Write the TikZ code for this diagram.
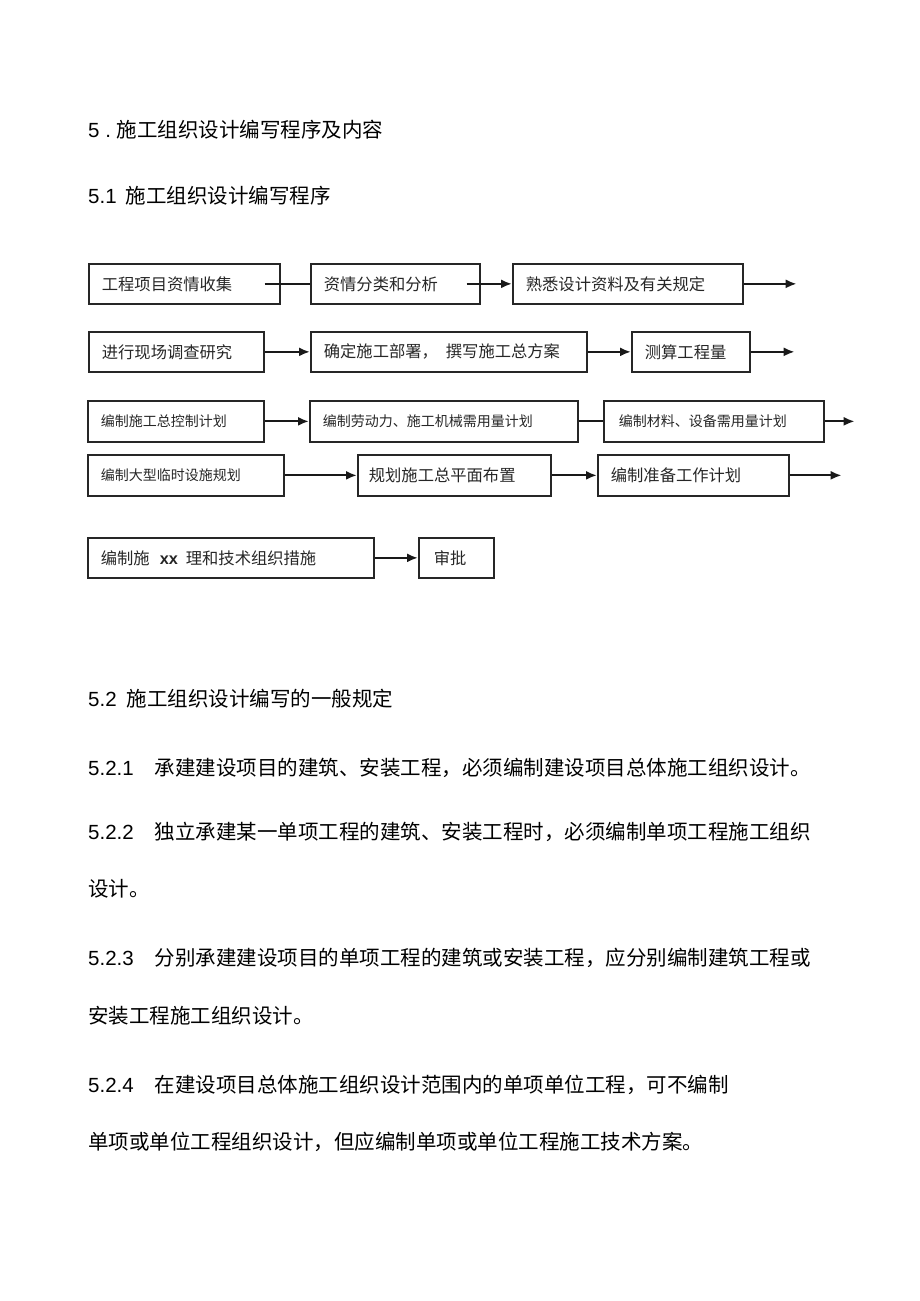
\documentclass[tikz,border=0pt]{standalone}
\usepackage{fontspec}
\setmainfont{Liberation Sans}
\newfontfamily\cjk{Noto Sans CJK SC}
\usetikzlibrary{arrows.meta}

\tikzset{
  stepbox/.style={draw=black!85, line width=1.7pt, inner xsep=13pt, inner ysep=0pt,
    minimum height=40pt, align=left, anchor=north west, text=black!85,
    font=\cjk\fontsize{16.3}{18}\selectfont},
  smallbox/.style={stepbox, minimum height=41pt, font=\cjk\fontsize{14}{16}\selectfont},
  link/.style={line width=2.2pt, draw=black!90, -{Latex[length=11pt,width=9pt]}},
  plainlink/.style={line width=2.2pt, draw=black!90},
  bodytext/.style={anchor=west, inner sep=0pt, font=\fontsize{20.5}{24}\selectfont}
}

\begin{document}
\begin{tikzpicture}[x=1pt,y=-1pt]
\useasboundingbox (0,0) rectangle (920,1301);

% headings
\node[bodytext] (title) at (88,130) {5 .\hspace{6pt}{\cjk 施工组织设计编写程序及内容}};
\node[bodytext] (sub1)  at (88,196) {5.1\hspace{9pt}{\cjk 施工组织设计编写程序}};

% flow of the steps
\node[stepbox, text width=165pt] (collect)  at (88,263)  {工程项目资情收集};
\node[stepbox, text width=143pt] (classify) at (310,263) {资情分类和分析};
\node[stepbox, text width=204pt] (study)    at (512,263) {熟悉设计资料及有关规定};
\coordinate (study-out) at ([xshift=53pt]study.east);

\node[stepbox, text width=149pt] (survey)   at (88,331)  {进行现场调查研究};
\node[stepbox, text width=250pt] (deploy)   at (310,331) {确定施工部署，\hspace{8pt}撰写施工总方案};
\node[stepbox, text width=92pt]  (quantity) at (631,331) {测算工程量};
\coordinate (quantity-out) at ([xshift=44pt]quantity.east);

\node[smallbox, text width=150pt] (master)   at (87,400)  {编制施工总控制计划};
\node[smallbox, text width=242pt] (labour)   at (309,400) {编制劳动力、施工机械需用量计划};
\node[smallbox, inner xsep=15pt, text width=190pt] (material) at (603,400) {编制材料、设备需用量计划};
\coordinate (material-out) at ([xshift=30pt]material.east);

\node[smallbox, text width=170pt] (temp)    at (87,454)  {编制大型临时设施规划};
\node[stepbox, minimum height=41pt, inner xsep=11pt, text width=171pt] (layout) at (357,454) {规划施工总平面布置};
\node[stepbox, minimum height=41pt, text width=165pt] (prepare) at (597,454) {编制准备工作计划};
\coordinate (prepare-out) at ([xshift=52pt]prepare.east);

\node[stepbox, text width=260pt] (measures) at (87,537) {编制施\hspace{10pt}{\rmfamily\bfseries xx}\hspace{8pt}理和技术组织措施};
\node[stepbox, inner xsep=15pt, text width=45pt] (approve) at (418,537) {审批};

\draw[plainlink] ([xshift=-16pt]collect.east) -- (classify.west);
\draw[link] ([xshift=-14pt]classify.east) -- (study.west);
\draw[link] (study.east) -- (study-out);
\draw[link] (survey.east) -- (deploy.west);
\draw[link] (deploy.east) -- (quantity.west);
\draw[link] (quantity.east) -- (quantity-out);
\draw[link] (master.east) -- (labour.west);
\draw[plainlink] (labour.east) -- (material.west);
\draw[link] (material.east) -- (material-out);
\draw[link] (temp.east) -- (layout.west);
\draw[link] (layout.east) -- (prepare.west);
\draw[link] (prepare.east) -- (prepare-out);
\draw[link] (measures.east) -- (approve.west);

% general rules
\node[bodytext] (sub2)  at (88,699)  {5.2\hspace{10pt}{\cjk 施工组织设计编写的一般规定}};
\node[bodytext] (rule1) at (88,768)  {5.2.1\hspace{21pt}{\cjk 承建建设项目的建筑、安装工程，必须编制建设项目总体施工组织设计。}};
\node[bodytext] (rule2) at (88,832)  {5.2.2\hspace{21pt}{\cjk 独立承建某一单项工程的建筑、安装工程时，必须编制单项工程施工组织}};
\node[bodytext] (rule2b) at (88,889) {{\cjk 设计。}};
\node[bodytext] (rule3) at (88,958)  {5.2.3\hspace{21pt}{\cjk 分别承建建设项目的单项工程的建筑或安装工程，应分别编制建筑工程或}};
\node[bodytext] (rule3b) at (88,1016) {{\cjk 安装工程施工组织设计。}};
\node[bodytext] (rule4) at (88,1085) {5.2.4\hspace{21pt}{\cjk 在建设项目总体施工组织设计范围内的单项单位工程，可不编制}};
\node[bodytext] (rule4b) at (88,1142) {{\cjk 单项或单位工程组织设计，但应编制单项或单位工程施工技术方案。}};
\end{tikzpicture}
\end{document}
